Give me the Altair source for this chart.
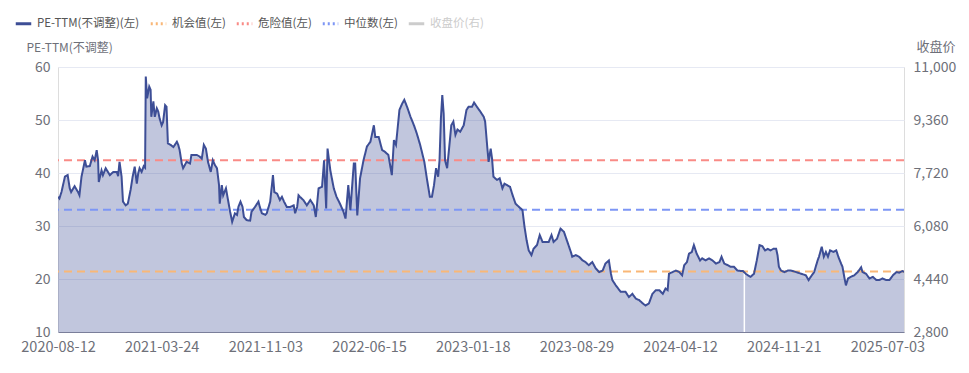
import altair as alt
import pandas as pd

# ---------------- data ----------------
day_idx = [0, 2, 5, 10, 14, 17, 19, 24, 29, 31, 34, 39, 41, 46, 50, 53, 56, 58, 59, 63, 65, 69, 75, 80, 85, 87, 89, 92, 94, 98,
           101, 105, 108, 111, 114, 116, 118, 121, 124, 126, 127, 129, 132, 134, 135, 138, 140, 143, 145, 147, 150, 152, 155, 157, 159, 163, 167, 172, 174, 176,
           179, 181, 186, 191, 193, 201, 205, 208, 211, 214, 217, 221, 224, 227, 230, 233, 234, 237, 239, 243, 246, 249, 252, 256, 259, 261, 264, 267, 269, 273,
           278, 280, 285, 290, 292, 295, 300, 302, 307, 311, 313, 317, 321, 324, 327, 331, 336, 341, 343, 346, 348, 350, 355, 360, 365, 370, 373, 377, 382, 385,
           388, 390, 394, 399, 403, 408, 413, 416, 420, 423, 428, 430, 433, 437, 442, 447, 452, 457, 459, 464, 469, 473, 478, 483, 486, 489, 494, 498, 501, 505,
           510, 515, 519, 524, 530, 534, 538, 541, 544, 547, 550, 552, 554, 556, 558, 560, 563, 567, 569, 572, 575, 578, 582, 587, 591, 594, 599, 602, 606, 611,
           616, 618, 621, 623, 626, 628, 630, 635, 639, 643, 646, 650, 654, 657, 662, 667, 672, 675, 678, 681, 685, 688, 693, 697, 701, 705, 710, 714, 717, 722,
           727, 732, 737, 742, 744, 749, 754, 759, 763, 768, 773, 778, 783, 788, 792, 797, 800, 802, 807, 814, 821, 826, 831, 836, 841, 846, 850, 855, 860, 865,
           870, 875, 879, 882, 884, 889, 894, 899, 903, 906, 910, 913, 917, 920, 924, 929, 932, 937, 942, 947, 952, 957, 960, 964, 969, 973, 978, 983, 988, 991,
           995, 998, 1002, 1007, 1011, 1015, 1019, 1023, 1027, 1031, 1035, 1039, 1041, 1043, 1046, 1051, 1056, 1060, 1068, 1075, 1082, 1086, 1089, 1094, 1099, 1101, 1105, 1108,
           1111, 1114, 1117, 1122, 1126, 1129, 1133, 1135, 1138, 1140, 1143, 1147, 1152, 1157, 1162, 1164, 1169, 1174, 1179, 1184, 1188, 1193, 1198, 1203, 1208, 1213,
           1217, 1222, 1224]

pe_ttm = [35.5, 35.2, 36.4, 39.3, 39.6, 37.1, 36.4, 37.5, 36.4, 35.8, 39.3, 42.4, 41.2, 41.3, 43.1, 42.4, 44.3, 42.4, 38.3, 40.5, 39.6, 40.9, 39.6, 40.2, 40.2, 39.4, 42.1, 39.3, 34.6, 33.9,
          34.2, 36.8, 39.3, 41.2, 38.0, 39.9, 40.9, 40.2, 41.3, 41.0, 58.2, 54.1, 56.3, 55.7, 50.6, 53.5, 50.6, 52.2, 51.6, 50.3, 49.0, 49.6, 52.8, 52.5, 45.6, 45.3, 44.9, 45.9, 45.3, 44.3,
          41.8, 40.9, 42.1, 41.8, 43.4, 43.4, 43.1, 42.7, 45.3, 44.6, 42.1, 40.2, 42.4, 41.5, 40.9, 37.7, 34.2, 37.7, 35.8, 37.1, 34.9, 32.7, 30.8, 32.4, 32.1, 33.6, 34.6, 33.6, 31.7, 31.1,
          31.0, 32.7, 33.6, 34.6, 33.6, 32.4, 32.1, 32.4, 34.6, 39.6, 36.4, 36.1, 34.9, 35.5, 34.6, 33.6, 33.6, 33.9, 32.4, 33.6, 35.8, 35.5, 34.9, 33.9, 34.9, 33.9, 31.7, 37.1, 37.4, 42.4,
          33.3, 44.6, 40.5, 37.1, 35.5, 34.2, 32.7, 31.4, 37.7, 33.0, 41.8, 41.8, 32.0, 39.0, 42.4, 45.0, 45.9, 49.0, 46.8, 46.8, 44.3, 44.0, 43.4, 39.6, 46.2, 45.3, 51.9, 53.1, 53.8, 52.5,
          50.6, 49.0, 47.5, 45.3, 42.1, 38.7, 35.5, 35.5, 37.7, 40.9, 39.3, 42.4, 50.3, 54.7, 51.2, 42.4, 40.9, 46.2, 49.0, 49.7, 47.2, 48.2, 47.8, 49.0, 51.9, 52.5, 52.5, 53.3, 52.5, 51.6,
          50.6, 49.7, 45.0, 42.1, 44.6, 42.7, 39.3, 38.7, 39.0, 37.1, 38.0, 37.7, 37.4, 36.1, 34.2, 33.6, 33.0, 29.8, 27.3, 25.4, 24.5, 25.7, 26.4, 28.3, 27.0, 27.0, 27.0, 28.3, 27.0, 27.6,
          29.5, 28.9, 27.0, 25.1, 24.2, 24.5, 24.2, 23.5, 23.2, 22.6, 23.2, 22.0, 21.3, 21.6, 22.9, 23.5, 21.0, 19.8, 18.8, 17.6, 17.6, 16.6, 17.2, 16.3, 16.0, 15.4, 15.0, 15.4, 17.2, 17.9,
          17.9, 17.2, 18.2, 17.9, 21.0, 21.3, 21.6, 21.3, 20.7, 22.6, 23.2, 24.8, 25.1, 26.4, 24.8, 23.5, 23.9, 23.5, 23.9, 23.5, 22.9, 23.2, 24.2, 22.9, 22.6, 22.3, 22.3, 21.6, 21.5, 21.5,
          21.0, 20.7, 20.4, 21.0, 23.5, 26.4, 26.2, 25.4, 25.7, 25.4, 25.7, 25.7, 24.5, 22.3, 21.6, 21.3, 21.6, 21.6, 21.3, 21.0, 20.7, 19.8, 20.4, 21.3, 23.5, 24.2, 26.1, 24.2,
          25.1, 24.2, 25.4, 25.1, 25.4, 24.2, 22.9, 22.3, 20.1, 18.8, 20.1, 20.4, 20.7, 21.3, 22.2, 21.3, 21.0, 20.1, 20.4, 19.8, 19.8, 20.1, 19.8, 19.8, 20.7, 21.3,
          21.2, 21.5, 21.3]

tick_dates = ["2020-08-12", "2021-03-24", "2021-11-03", "2022-06-15", "2023-01-18",
              "2023-08-29", "2024-04-12", "2024-11-21", "2025-07-03"]
tick_step = 150

gap_idx = [993]
gap_pe = [21.2]

ref_names = ["机会值(左)", "危险值(左)", "中位数(左)"]
ref_values = [21.4, 42.4, 33.05]

pe_ticks = [10, 20, 30, 40, 50, 60]
close_ticks = [2800, 4440, 6080, 7720, 9360, 11000]

series_names = ["PE-TTM(不调整)(左)", "机会值(左)", "危险值(左)", "中位数(左)", "收盘价(右)"]
series_colors = ["#3D4E96", "#F9B777", "#F98B86", "#7D96F5", "#CCCCCC"]
legend_dash = [[1, 0], [2, 3], [2, 3], [2, 3], [1, 0]]

# ---------------- styling ----------------
FONT = "Noto Sans CJK SC"
LABEL_C = "#6E7079"
LINE_C = series_colors[0]

pe_df = pd.DataFrame({"idx": day_idx, "pe": pe_ttm, "series": series_names[0]})
ref_df = pd.DataFrame({"pe": ref_values, "series": ref_names})
gap_df = pd.DataFrame({"idx": gap_idx, "pe": gap_pe})
close_df = pd.DataFrame({"close": close_ticks})

label_arr = "[" + ",".join("'%s'" % d for d in tick_dates) + "]"

x_enc = alt.X(
    "idx:Q",
    scale=alt.Scale(domain=[0, max(day_idx)], nice=False, zero=False),
    axis=alt.Axis(
        values=[i * tick_step for i in range(len(tick_dates))],
        labelExpr=label_arr + "[round(datum.value / %d)]" % tick_step,
        title=None, grid=False, ticks=False,
        domainColor="#7A7E9A", domainWidth=1,
        labelFontSize=14.5, labelColor=LABEL_C, labelPadding=8,
        labelFlush=False, labelOverlap=False,
    ),
)

y_enc = alt.Y(
    "pe:Q",
    scale=alt.Scale(domain=[10, 60], nice=False, zero=False),
    axis=alt.Axis(
        values=pe_ticks, title="PE-TTM(不调整)", titleAngle=0, titleAlign="left",
        titleBaseline="middle", titleX=-32, titleY=-20, titleFontSize=12,
        titleFontWeight="normal", titleColor=LABEL_C,
        grid=True, gridColor="#E6E9F3", domain=False, ticks=False,
        labelFontSize=14, labelColor=LABEL_C, labelPadding=8,
    ),
)

legend = alt.Legend(
    title=None, orient="none", legendX=-44, legendY=-53, direction="horizontal",
    symbolType="stroke", symbolStrokeWidth=3, symbolSize=240,
    labelFontSize=11.5, labelOffset=4, columnPadding=4, padding=0,
    labelColor=alt.ExprRef(expr="datum.label == '收盘价(右)' ? '#CCCCCC' : '#555555'"),
)

color_enc = alt.Color("series:N", scale=alt.Scale(domain=series_names, range=series_colors), legend=legend)
dash_enc = alt.StrokeDash("series:N", scale=alt.Scale(domain=series_names, range=legend_dash), legend=legend)

area = alt.Chart(pe_df).mark_area(color=LINE_C, opacity=0.32, clip=True).encode(
    x=x_enc, y=y_enc, y2=alt.datum(10)
)

gap = alt.Chart(gap_df).mark_rule(color="white", strokeWidth=1.5).encode(
    x=x_enc, y=y_enc, y2=alt.datum(10)
)

rules = alt.Chart(ref_df).mark_rule(strokeDash=[8, 5], strokeWidth=2).encode(
    y=y_enc, color=color_enc
)

line = alt.Chart(pe_df).mark_line(strokeWidth=2, clip=True).encode(
    x=x_enc, y=y_enc, color=color_enc, strokeDash=dash_enc
)

inner = alt.layer(area, gap, rules, line)

right = alt.Chart(close_df).mark_point(opacity=0).encode(
    y=alt.Y(
        "close:Q",
        scale=alt.Scale(domain=[2800, 11000], nice=False, zero=False),
        axis=alt.Axis(
            orient="right", values=close_ticks,
            labelExpr="format(datum.value, ',')", title="收盘价",
            titleAngle=0, titleAlign="left", titleBaseline="middle",
            titleX=12, titleY=-21, titleFontSize=13, titleFontWeight="normal",
            titleColor=LABEL_C, grid=False, domain=False, ticks=False,
            labelFontSize=14, labelColor=LABEL_C, labelPadding=9,
        ),
    )
)

chart = (
    alt.layer(inner, right)
    .resolve_scale(y="independent")
    .properties(
        width=846, height=265,
        padding={"left": 58, "top": 67, "right": 65, "bottom": 41},
        autosize=alt.AutoSizeParams(type="none"),
    )
    .configure_view(stroke=None)
    .configure(font=FONT)
)

chart.save("out.html", embed_options={"renderer": "svg", "actions": False})
